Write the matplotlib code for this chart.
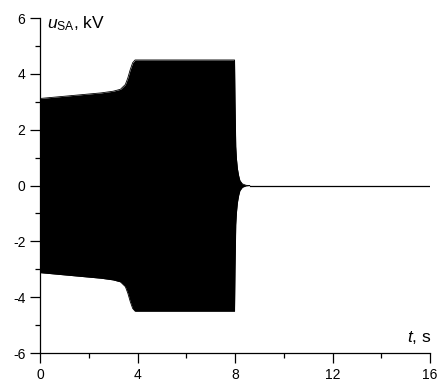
import matplotlib
matplotlib.use('Agg')
import numpy as np
import matplotlib.pyplot as plt

plt.rcParams['font.family'] = ['Liberation Sans', 'DejaVu Sans']
plt.rcParams['mathtext.fontset'] = 'custom'
plt.rcParams['mathtext.rm'] = 'Liberation Sans'
plt.rcParams['mathtext.it'] = 'Liberation Sans:italic'
plt.rcParams['axes.unicode_minus'] = False

# envelope of the oscillating voltage (amplitude, kV)
t_env = [0.0, 0.5, 1.0, 1.5, 2.0, 2.5, 3.0, 3.3, 3.5, 3.6, 3.7, 3.8, 3.9, 4.0,
         5.0, 6.0, 7.0, 7.98, 8.0, 8.03, 8.06, 8.1, 8.15, 8.2, 8.3, 8.45, 8.6]
u_env = [3.12, 3.16, 3.2, 3.24, 3.28, 3.32, 3.38, 3.45, 3.62, 3.85, 4.15, 4.4, 4.5, 4.5,
         4.5, 4.5, 4.5, 4.5, 3.0, 1.4, 0.95, 0.6, 0.35, 0.18, 0.06, 0.01, 0.0]
t_line = [8.6, 16.0]
u_line = [0.0, 0.0]

fig = plt.figure(figsize=(4.42, 3.85), dpi=100)
ax = fig.add_axes([0.0905, 0.083, 0.8825, 0.87])

ax.fill_between(t_env, [-u for u in u_env], u_env, color='black', lw=0)
ax.plot(t_env, u_env, color='black', lw=0.6)
ax.plot(t_env, [-u for u in u_env], color='black', lw=0.6)
ax.plot(t_line, u_line, color='black', lw=0.9)

ax.set_xlim(0, 16)
ax.set_ylim(-6, 6)
ax.set_xticks([0, 4, 8, 12, 16])
ax.set_xticks([2, 6, 10, 14], minor=True)
ax.set_yticks([-6, -4, -2, 0, 2, 4, 6])
ax.set_yticks([-5, -3, -1, 1, 3, 5], minor=True)

for s in ['top', 'right']:
    ax.spines[s].set_visible(False)
for s in ['left', 'bottom']:
    ax.spines[s].set_linewidth(0.9)
ax.tick_params(which='major', length=7.5, width=0.9, labelsize=10, pad=3)
ax.tick_params(which='minor', length=3.8, width=0.9)

ax.text(0.018, 1.01, r'$u_{\mathrm{SA}}$, kV', transform=ax.transAxes,
        fontsize=12.5, va='top', ha='left')
ax.text(1.005, 0.02, r'$t$, s', transform=ax.transAxes,
        fontsize=12.5, va='bottom', ha='right')

fig.savefig('out.png', dpi=100)
